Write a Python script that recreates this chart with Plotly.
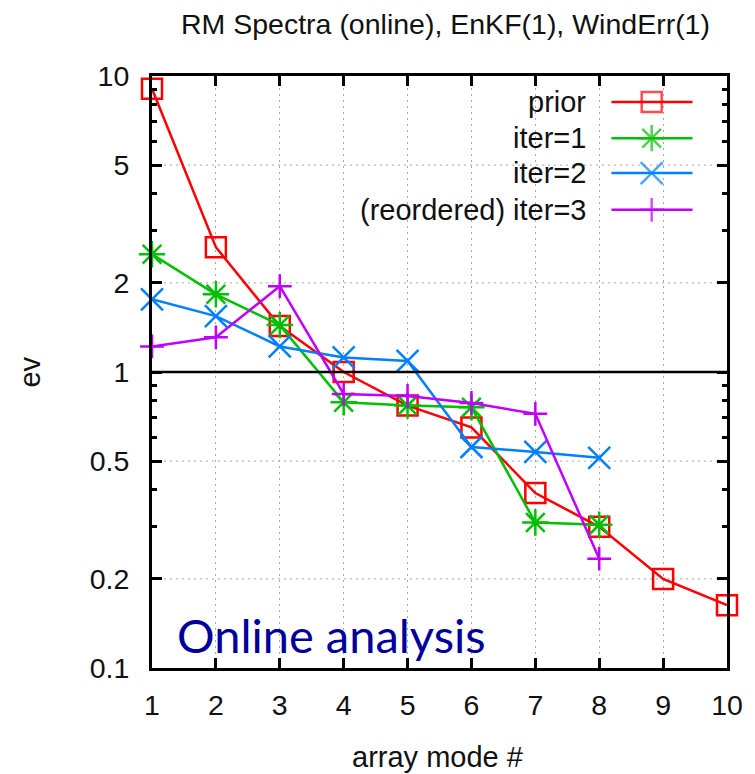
import plotly.graph_objects as go

# ---------------- data ----------------
modes_prior = [1, 2, 3, 4, 5, 6, 7, 8, 9, 10]
prior = [9.05, 2.64, 1.43, 1.00, 0.77, 0.65, 0.39, 0.30, 0.20, 0.163]

modes_iter = [1, 2, 3, 4, 5, 6, 7, 8]
iter1 = [2.50, 1.83, 1.44, 0.79, 0.77, 0.76, 0.31, 0.305]
iter2 = [1.76, 1.545, 1.22, 1.12, 1.09, 0.558, 0.537, 0.513]
iter3 = [1.22, 1.31, 1.95, 0.843, 0.83, 0.786, 0.722, 0.234]

series_names = ["prior", "iter=1", "iter=2", "(reordered) iter=3"]
series_colors = ["#FF0000", "#00C000", "#0080FF", "#C000FF"]
series_symbols = ["square-open", "asterisk-open", "x-thin-open", "cross-thin-open"]
series_sizes = [20, 22, 22, 17]

x_ticks = [1, 2, 3, 4, 5, 6, 7, 8, 9, 10]
y_ticks = [0.1, 0.2, 0.5, 1, 2, 5, 10]
y_tick_labels = ["0.1", "0.2", "0.5", "1", "2", "5", "10"]
y_minor = [0.3, 0.4, 0.6, 0.7, 0.8, 0.9, 3, 4, 6, 7, 8, 9]
y_grid = [0.2, 0.5, 2, 5]

title = "RM Spectra (online), EnKF(1), WindErr(1)"
x_title = "array mode #"
y_title = "ev"
note = "Online analysis"

FONT = "Liberation Sans, Arial, sans-serif"
TXT = "#111111"
LW = 2.5

fig = go.Figure()

xs = [modes_prior, modes_iter, modes_iter, modes_iter]
ys = [prior, iter1, iter2, iter3]
for name, x, y, c, s, sz in zip(series_names, xs, ys, series_colors, series_symbols, series_sizes):
    fig.add_trace(go.Scatter(
        x=x, y=y, mode="lines+markers", name=name,
        line=dict(color=c, width=LW),
        marker=dict(symbol=s, size=sz, color=c, line=dict(color=c, width=LW)),
        cliponaxis=False, showlegend=False,
    ))

# ---------- manual legend (text left, sample right, as in gnuplot) ----------
leg_rows = [0.956, 0.895, 0.836, 0.774]
leg_text_x = 0.759
leg_x0, leg_xm, leg_x1 = 0.799, 0.869, 0.940
for name, c, s, sz, ry in zip(series_names, series_colors, series_symbols, series_sizes, leg_rows):
    fig.add_trace(go.Scatter(
        x=[leg_x0, leg_xm, leg_x1], y=[ry, ry, ry], xaxis="x2", yaxis="y2",
        mode="lines+markers", line=dict(color=c, width=LW),
        marker=dict(symbol=s, size=[0, sz, 0], color=c, line=dict(color=c, width=LW)),
        showlegend=False, hoverinfo="skip", cliponaxis=False,
    ))

annotations = []
for name, ry in zip(series_names, leg_rows):
    annotations.append(dict(
        x=leg_text_x, y=ry, xref="paper", yref="paper", text=name, showarrow=False,
        xanchor="right", yanchor="middle", font=dict(family=FONT, size=29, color=TXT),
    ))

annotations += [
    dict(x=0.510, y=1.088, xref="paper", yref="paper", text=title, showarrow=False,
         xanchor="center", yanchor="middle", font=dict(family=FONT, size=28.5, color=TXT)),
    dict(x=0.496, y=-0.150, xref="paper", yref="paper", text=x_title, showarrow=False,
         xanchor="center", yanchor="middle", font=dict(family=FONT, size=29, color=TXT)),
    dict(x=-0.213, y=0.5, xref="paper", yref="paper", text=y_title, showarrow=False,
         textangle=-90, xanchor="center", yanchor="middle",
         font=dict(family=FONT, size=29, color=TXT)),
    dict(x=0.040, y=0.055, xref="paper", yref="paper", text=note, showarrow=False,
         xanchor="left", yanchor="middle", font=dict(family="Lato", size=47, color="#00009C")),
]

shapes = [
    # white legend background box (hides grid lines)
    dict(type="rect", xref="paper", yref="paper", x0=0.217, x1=0.947, y0=0.745, y1=1.0,
         fillcolor="white", line=dict(width=0), layer="between"),
    # reference line at ev = 1
    dict(type="line", xref="paper", yref="y", x0=0, x1=1, y0=1, y1=1,
         line=dict(color="black", width=2.5), layer="above"),
]

fig.update_layout(
    width=755, height=774,
    margin=dict(l=152, r=22, t=76, b=106),
    paper_bgcolor="white", plot_bgcolor="white",
    font=dict(family=FONT, size=28, color=TXT),
    annotations=annotations, shapes=shapes, showlegend=False,
    xaxis=dict(
        range=[1, 10], tickvals=x_ticks, ticks="inside", ticklen=10, tickwidth=2.5,
        tickcolor="black", showline=True, linecolor="black", linewidth=3, mirror="ticks",
        showgrid=True, gridcolor="#A8A8A8", griddash="2px,4px", gridwidth=1,
        zeroline=False, tickfont=dict(family=FONT, size=28.5, color=TXT),
        ticklabelstandoff=10,
    ),
    yaxis=dict(
        type="log", range=[-1, 1], tickvals=y_ticks, ticktext=y_tick_labels,
        ticks="inside", ticklen=10, tickwidth=2.5, tickcolor="black",
        showline=True, linecolor="black", linewidth=3, mirror="ticks",
        showgrid=False, zeroline=False,
        minor=dict(tickvals=y_minor, ticks="inside", ticklen=5, tickwidth=2.5,
                   tickcolor="black", showgrid=False),
        tickfont=dict(family=FONT, size=28.5, color=TXT),
        ticklabelstandoff=14,
    ),
    xaxis2=dict(range=[0, 1], overlaying="x", visible=False, fixedrange=True),
    yaxis2=dict(range=[0, 1], overlaying="y", visible=False, fixedrange=True),
)

# horizontal dotted grid lines at selected values (not at 1, where a solid line is drawn)
for gv in y_grid:
    fig.add_shape(type="line", xref="paper", yref="y", x0=0, x1=1, y0=gv, y1=gv,
                  line=dict(color="#A8A8A8", width=1, dash="2px,4px"), layer="below")

fig.write_html("out.html")
